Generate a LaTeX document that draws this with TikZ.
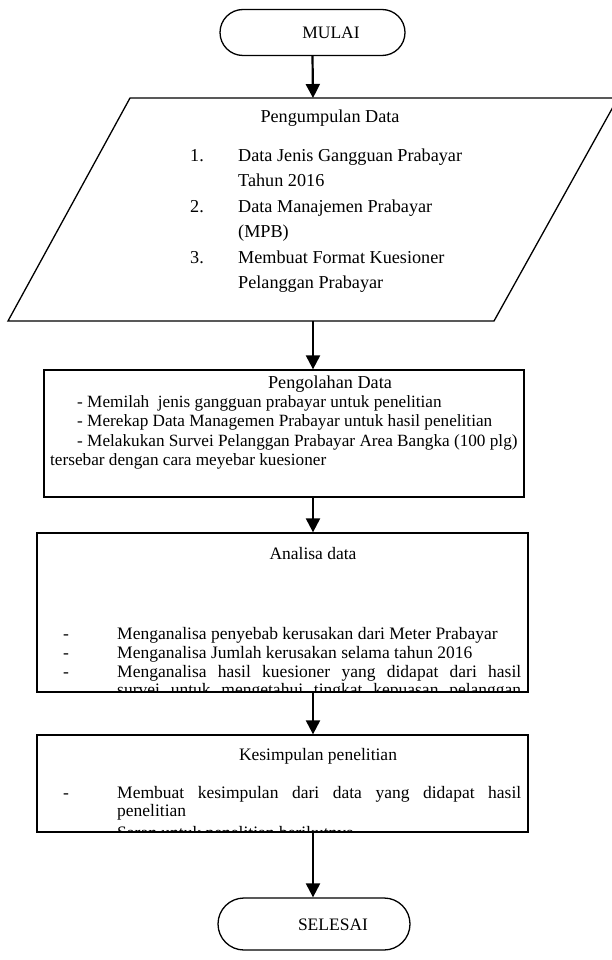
\documentclass[tikz,border=0pt]{standalone}
\usepackage{fontspec}
\setmainfont{Liberation Serif}
\usetikzlibrary{arrows.meta,shapes.misc}
\begin{document}
\begin{tikzpicture}[x=1pt,y=-1pt,
  every node/.style={font=\fontsize{17.5}{19}\selectfont, inner sep=0pt, text=black},
  bigtext/.style={font=\fontsize{18.2}{20}\selectfont},
  bodytext/.style={font=\fontsize{17.2}{19}\selectfont},
  shapeline/.style={draw=black, line width=1.3pt},
  term/.style={shapeline, rounded rectangle, minimum width=185pt, minimum height=46pt},
  procbox/.style={shapeline, rectangle},
  flow/.style={draw=black, line width=2.2pt, -{Triangle[width=14pt,length=14pt]}},
  txt/.style={anchor=base west},
  ctr/.style={anchor=base},
]
\useasboundingbox (0,0) rectangle (612,960);
\fill[white] (0,0) rectangle (612,960);
\clip (0,0) rectangle (612,960);

% MULAI
\node[term] (mulai) at (312.5,32.5) {};
\node[ctr] (mulaitxt) at (331,39) {MULAI};

% Pengumpulan Data (parallelogram)
\draw[shapeline] (130,98) -- (618,98) -- (494,321) -- (8,321) -- cycle;
\coordinate (pdtop) at (313,98);
\coordinate (pdbot) at (313,321);
\node[ctr, bigtext] (pdtitle) at (330,123) {Pengumpulan Data};
\node[txt, bigtext] (n1) at (190,161) {1.};
\node[txt, bigtext] (t1a) at (238,161) {Data Jenis Gangguan Prabayar};
\node[txt, bigtext] (t1b) at (238,186) {Tahun 2016};
\node[txt, bigtext] (n2) at (190,212) {2.};
\node[txt, bigtext] (t2a) at (238,212) {Data Manajemen Prabayar};
\node[txt, bigtext] (t2b) at (238,237) {(MPB)};
\node[txt, bigtext] (n3) at (190,263) {3.};
\node[txt, bigtext] (t3a) at (238,263) {Membuat Format Kuesioner};
\node[txt, bigtext] (t3b) at (238,288) {Pelanggan Prabayar};

% Pengolahan Data
\node[procbox, minimum width=480pt, minimum height=127pt] (olah) at (284,433.5) {};
\node[ctr, bigtext] (olahtitle) at (330,388) {Pengolahan Data};
\node[txt, bodytext] (o1) at (77,407) {- Memilah\ \ jenis gangguan prabayar untuk penelitian};
\node[txt, bodytext] (o2) at (77,426) {- Merekap Data Managemen Prabayar untuk hasil penelitian};
\node[txt, bodytext] (o3) at (77,446) {- Melakukan Survei Pelanggan Prabayar Area Bangka (100 plg)};
\node[txt, bodytext] (o4) at (50,465) {tersebar dengan cara meyebar kuesioner};

% Analisa data
\node[procbox, minimum width=491pt, minimum height=159pt] (analisa) at (282.5,612.5) {};
\begin{scope}
\clip (37,533) rectangle (528,692);
\node[ctr] (antitle) at (313,559) {Analisa data};
\node[txt] (ad1) at (63,639) {-};
\node[txt] (a1) at (117,639) {Menganalisa penyebab kerusakan dari Meter Prabayar};
\node[txt] (ad2) at (63,658) {-};
\node[txt] (a2) at (117,658) {Menganalisa Jumlah kerusakan selama tahun 2016};
\node[txt] (ad3) at (63,677) {-};
\node[txt] (a3) at (117,677) {\makebox[404pt][s]{Menganalisa hasil kuesioner yang didapat dari hasil}};
\node[txt] (a4) at (117,695) {\makebox[404pt][s]{survei untuk mengetahui tingkat kepuasan pelanggan}};
\end{scope}

% Kesimpulan penelitian
\node[procbox, minimum width=491pt, minimum height=97pt] (kes) at (282.5,783.5) {};
\begin{scope}
\clip (37,735) rectangle (528,832);
\node[ctr] (kestitle) at (318,760) {Kesimpulan penelitian};
\node[txt] (kd1) at (63,798) {-};
\node[txt] (k1) at (117,798) {\makebox[404pt][s]{Membuat kesimpulan dari data yang didapat hasil}};
\node[txt] (k2) at (117,816) {penelitian};
\node[txt] (k3) at (117,838) {Saran untuk penelitian berikutnya};
\end{scope}

% SELESAI
\node[term, minimum width=192pt, minimum height=52pt] (selesai) at (314,924) {};
\node[ctr] (selesaitxt) at (333,930) {SELESAI};

% connectors
\draw[flow] (mulai.south) -- (pdtop);
\draw[flow] (pdbot) -- (olah.north -| pdbot);
\draw[flow] (olah.south -| pdbot) -- (analisa.north -| pdbot);
\draw[flow] (analisa.south -| pdbot) -- (kes.north -| pdbot);
\draw[flow] (kes.south -| pdbot) -- (selesai.north -| pdbot);
\end{tikzpicture}
\end{document}
